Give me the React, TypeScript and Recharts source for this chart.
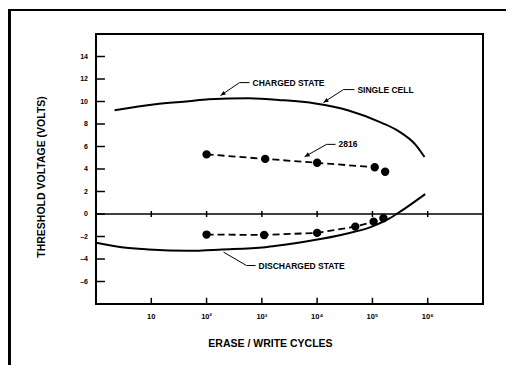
import React from "react";
import {
  ComposedChart,
  Line,
  XAxis,
  YAxis,
  ReferenceLine,
  ReferenceDot,
} from "recharts";

// erase/write cycles (log axis) and threshold voltage
const xTicks = [10, 100, 1000, 10000, 100000, 1000000];
const xTickLabels = ["10", "10²", "10³", "10⁴", "10⁵", "10⁶"];
const yTicks = [-6, -4, -2, 0, 2, 4, 6, 8, 10, 12, 14];
const xDomain = [1, 10000000];
const yDomain = [-8, 16];

const chargedCycles = [2.17, 11.8, 47, 109, 575, 2290, 9250, 37000, 148000, 296000, 594000, 875000];
const chargedVolts = [9.23, 9.76, 10.03, 10.2, 10.28, 10.12, 9.82, 9.2, 8.1, 7.37, 6.19, 5.07];

const dischargedCycles = [1, 2.9, 8.9, 47, 189, 1150, 2000, 7940, 32200, 98000, 196000, 339000, 900000];
const dischargedVolts = [-2.55, -2.95, -3.15, -3.27, -3.16, -2.95, -2.8, -2.36, -1.77, -1.12, -0.44, 0.3, 1.77];

const part2816HighCycles = [100, 1150, 10000, 110000, 170000];
const part2816HighVolts = [5.3, 4.9, 4.55, 4.15, 3.75];

const part2816LowCycles = [100, 1100, 10000, 49000, 105000, 158000];
const part2816LowVolts = [-1.83, -1.86, -1.68, -1.12, -0.68, -0.38];

const zip = (xs: number[], ys: number[]) => xs.map((x, i) => ({ x, y: ys[i] }));

const charged = zip(chargedCycles, chargedVolts);
const discharged = zip(dischargedCycles, dischargedVolts);
const high2816 = zip(part2816HighCycles, part2816HighVolts);
const low2816 = zip(part2816LowCycles, part2816LowVolts);

// callouts: tip, knee, end of leader (data coords), then the label
const callouts = [
  { pts: [[179, 10.53], [395, 11.68], [600, 11.68]], text: "CHARGED STATE", arrow: true },
  { pts: [[13000, 9.91], [29900, 11.06], [47300, 11.06]], text: "SINGLE CELL", arrow: true },
  { pts: [[5940, 5.09], [14800, 6.19], [21500, 6.19]], text: "2816", arrow: true },
  { pts: [[203, -3.39], [528, -4.58], [769, -4.58]], text: "DISCHARGED STATE", arrow: false },
];

const FONT = "'Liberation Sans', Arial, sans-serif";
const tickFont = { fontSize: 7.5, fontWeight: "bold", fill: "#000", fontFamily: FONT };

function YTitle(props: any) {
  const { viewBox } = props;
  const cx = viewBox.x - 25;
  const cy = viewBox.y + viewBox.height / 2 + 8;
  return (
    <text
      x={cx}
      y={cy}
      transform={`rotate(-90 ${cx} ${cy})`}
      textAnchor="middle"
      dominantBaseline="central"
      fontSize={10.5}
      fontWeight="bold"
      fontFamily={FONT}
      fill="#000"
    >
      THRESHOLD VOLTAGE (VOLTS)
    </text>
  );
}

function XTitle(props: any) {
  const { viewBox } = props;
  return (
    <text
      x={viewBox.x + viewBox.width / 2 - 19}
      y={viewBox.y + 43}
      textAnchor="middle"
      fontSize={10.5}
      fontWeight="bold"
      fontFamily={FONT}
      fill="#000"
    >
      ERASE / WRITE CYCLES
    </text>
  );
}

function ArrowLine(p: any) {
  const { x1, y1, x2, y2 } = p;
  const a = Math.atan2(y2 - y1, x2 - x1);
  const L = 5;
  const W = 2.2;
  const bx = x2 - L * Math.cos(a);
  const by = y2 - L * Math.sin(a);
  const pts = `${x2},${y2} ${bx - W * Math.sin(a)},${by + W * Math.cos(a)} ${bx + W * Math.sin(a)},${by - W * Math.cos(a)}`;
  return (
    <g>
      <line x1={x1} y1={y1} x2={x2} y2={y2} stroke="#000" strokeWidth={1} />
      <polygon points={pts} fill="#000" />
    </g>
  );
}

export default function App() {
  return (
    <div style={{ position: "absolute", left: 0, top: 0, width: 506, height: 365, background: "#fff" }}>
      {/* page frame of the scanned figure */}
      <div
        style={{
          position: "absolute",
          left: 8,
          top: 9,
          width: 498,
          height: 356,
          borderLeft: "3px solid #000",
          borderTop: "2px solid #000",
        }}
      />
      {/* plot box, lying under the chart's own axis lines */}
      <div
        style={{
          position: "absolute",
          left: 95,
          top: 33,
          width: 389,
          height: 272,
          boxSizing: "border-box",
          border: "2px solid #000",
        }}
      />
      <div style={{ position: "absolute", left: 0, top: 0 }}>
        <ComposedChart width={506} height={365} margin={{ top: 34, right: 23, left: 66, bottom: 41 }}>
          <XAxis
            dataKey="x"
            type="number"
            scale="log"
            domain={xDomain}
            allowDataOverflow
            ticks={xTicks}
            tickFormatter={(v: number) => xTickLabels[xTicks.indexOf(v)] ?? ""}
            tick={tickFont}
            tickLine={false}
            axisLine={{ stroke: "#000", strokeWidth: 2 }}
            tickMargin={4}
            height={20}
            interval={0}
            label={<XTitle />}
          />
          <YAxis
            type="number"
            domain={yDomain}
            allowDataOverflow
            ticks={yTicks}
            tickFormatter={(v: number) => (v < 0 ? "–" + Math.abs(v) : String(v))}
            tick={{ ...tickFont, fontSize: 7 }}
            tickLine={false}
            axisLine={{ stroke: "#000", strokeWidth: 2 }}
            width={30}
            interval={0}
            label={<YTitle />}
          />
          <ReferenceLine y={yDomain[1]} ifOverflow="visible" stroke="#000" strokeWidth={2} />
          <ReferenceLine x={xDomain[1]} ifOverflow="visible" stroke="#000" strokeWidth={2} />
          <ReferenceLine y={0} stroke="#000" strokeWidth={1.5} />
          {yTicks.map((t) => (
            <ReferenceLine
              key={"yt" + t}
              segment={[
                { x: xDomain[0], y: t },
                { x: 1.45, y: t },
              ]}
              stroke="#000"
              strokeWidth={1.5}
            />
          ))}
          {xTicks.map((t) => (
            <ReferenceLine
              key={"xt" + t}
              segment={[
                { x: t, y: yDomain[0] },
                { x: t, y: -7.45 },
              ]}
              stroke="#000"
              strokeWidth={1.5}
            />
          ))}
          {xTicks.map((t) => (
            <ReferenceLine
              key={"z" + t}
              segment={[
                { x: t, y: -0.27 },
                { x: t, y: 0.27 },
              ]}
              stroke="#000"
              strokeWidth={1.5}
            />
          ))}
          <Line
            data={charged}
            dataKey="y"
            type="monotone"
            stroke="#000"
            strokeWidth={2}
            dot={false}
            isAnimationActive={false}
          />
          <Line
            data={discharged}
            dataKey="y"
            type="monotone"
            stroke="#000"
            strokeWidth={2}
            dot={false}
            isAnimationActive={false}
          />
          <Line
            data={high2816}
            dataKey="y"
            type="linear"
            stroke="#000"
            strokeWidth={1.8}
            strokeDasharray="7 4"
            dot={{ r: 3.3, fill: "#000", stroke: "#000", strokeDasharray: "0" }}
            isAnimationActive={false}
          />
          <Line
            data={low2816}
            dataKey="y"
            type="linear"
            stroke="#000"
            strokeWidth={1.8}
            strokeDasharray="7 4"
            dot={{ r: 3.3, fill: "#000", stroke: "#000", strokeDasharray: "0" }}
            isAnimationActive={false}
          />
          {callouts.map((c) => (
            <ReferenceLine
              key={c.text + "d"}
              segment={[
                { x: c.pts[1][0], y: c.pts[1][1] },
                { x: c.pts[0][0], y: c.pts[0][1] },
              ]}
              stroke="#000"
              strokeWidth={1}
              shape={c.arrow ? ArrowLine : undefined}
            />
          ))}
          {callouts.map((c) => (
            <ReferenceLine
              key={c.text + "h"}
              segment={[
                { x: c.pts[1][0], y: c.pts[1][1] },
                { x: c.pts[2][0], y: c.pts[2][1] },
              ]}
              stroke="#000"
              strokeWidth={1}
            />
          ))}
          {callouts.map((c) => (
            <ReferenceDot
              key={c.text + "t"}
              x={c.pts[2][0]}
              y={c.pts[2][1]}
              r={0}
              stroke="none"
              label={{
                value: c.text,
                position: "right",
                offset: 3,
                fill: "#000",
                fontSize: 8.5,
                fontWeight: "bold",
                fontFamily: FONT,
              }}
            />
          ))}
        </ComposedChart>
      </div>
    </div>
  );
}
